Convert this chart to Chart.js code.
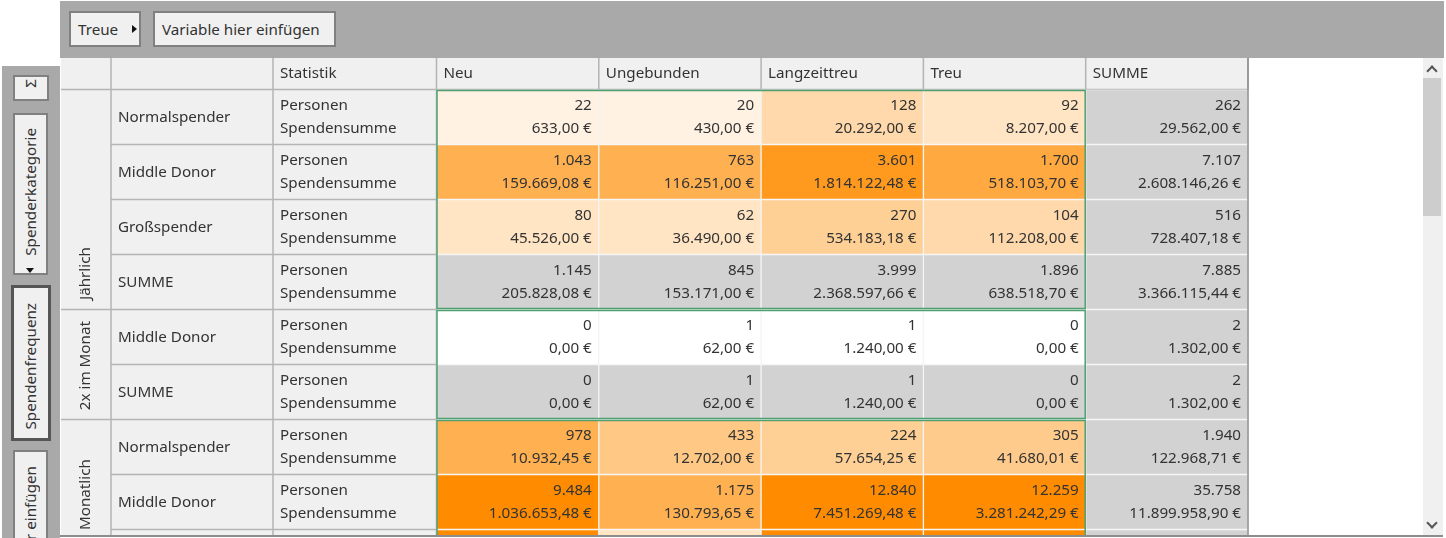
<!DOCTYPE html>
<html>
<head>
<meta charset="utf-8">
<title>Spenderkategorie nach Treue</title>
<script src="https://cdn.jsdelivr.net/npm/chart.js@4"></script>
<style>
html, body { margin: 0; width: 1446px; height: 538px; overflow: hidden; background: #fff; }
body { font: 15.2px "Noto Sans", sans-serif; color: #333; }
canvas { position: absolute; left: 0; top: 0; }
.bar, .side, .btn, .track, .thumb, .foot { position: absolute; box-sizing: border-box; }
.bar { left: 60px; top: 1px; width: 1384px; height: 57px; background: #a9a9a9; }
.side { left: 2px; top: 66px; width: 58px; height: 472px; background: #a9a9a9; overflow: hidden; }
.btn { background: #f0f0f0; border: 2px solid #808080; white-space: nowrap; }
.top { top: 11px; height: 36px; line-height: 32px; padding-left: 7px; }
.rot span { position: absolute; left: 0; width: 100%; line-height: 31px; text-align: center; writing-mode: vertical-rl; transform: rotate(180deg); }
.foot { left: 60px; top: 535px; width: 1383px; height: 2px; background: #8c8c8c; }
.track { left: 1423px; top: 58px; width: 20px; height: 477px; background: #f0f0f0; }
.thumb { left: 1423px; top: 78px; width: 18px; height: 138px; background: #cdcdcd; }
.chev { position: absolute; left: 1428px; width: 6px; height: 6px; border: solid #555; border-width: 2px 0 0 2px; transform: rotate(45deg); }
.tri { position: absolute; width: 0; height: 0; }
</style>
</head>
<body>
<canvas id="pivot" width="1446" height="538"></canvas>
<div class="bar"></div>
<div class="btn top" style="left:69px;width:72px">Treue</div>
<div class="tri" style="left:132px;top:25px;border-left:5px solid #111;border-top:4px solid transparent;border-bottom:4px solid transparent"></div>
<div class="btn top" style="left:153px;width:183px">Variable hier einfügen</div>
<div class="side">
  <div class="btn rot" style="left:11px;top:9px;width:36px;height:26px"><span style="top:2px">Σ</span></div>
  <div class="btn rot" style="left:11px;top:47px;width:35px;height:162px"><span style="top:13px">Spenderkategorie</span></div>
  <div class="tri" style="left:24px;top:202px;border-top:5px solid #111;border-left:4px solid transparent;border-right:4px solid transparent"></div>
  <div class="btn rot" style="left:9px;top:219px;width:40px;height:156px;border:3px solid #555"><span style="top:15px;line-height:33px">Spendenfrequenz</span></div>
  <div class="btn rot" style="left:11px;top:384px;width:35px;height:190px"><span style="top:14px">Variable hier einfügen</span></div>
</div>
<div class="track"></div>
<div class="thumb"></div>
<div class="chev" style="top:67px"></div>
<div class="chev" style="top:519px;transform:rotate(225deg)"></div>
<div class="foot"></div>

<script>
// column and row headers
const columns = ['Neu', 'Ungebunden', 'Langzeittreu', 'Treu', 'SUMME'];
const rowLabels = ['Normalspender', 'Middle Donor', 'Großspender', 'SUMME', 'Middle Donor', 'SUMME', 'Normalspender', 'Middle Donor', ''];
const statLabels = ['Personen', 'Spendensumme'];
const groupLabels = ['Jährlich', '2x im Monat', 'Monatlich'];
const groupStarts = [0, 4, 6];
const groupEnds = [4, 6, 9];
const groupTextEnds = [3.827, 5.83, 8.01]; // where the rotated label stops, in rows
const summeRows = [3, 5];

const personen = [
    [22, 20, 128, 92, 262],
    [1043, 763, 3601, 1700, 7107],
    [80, 62, 270, 104, 516],
    [1145, 845, 3999, 1896, 7885],
    [0, 1, 1, 0, 2],
    [0, 1, 1, 0, 2],
    [978, 433, 224, 305, 1940],
    [9484, 1175, 12840, 12259, 35758],
    [9000, 90, 9000, 9000, 27090] // only the top edge of this row shows, estimated
];
const spenden = [
    [633.00, 430.00, 20292.00, 8207.00, 29562.00],
    [159669.08, 116251.00, 1814122.48, 518103.70, 2608146.26],
    [45526.00, 36490.00, 534183.18, 112208.00, 728407.18],
    [205828.08, 153171.00, 2368597.66, 638518.70, 3366115.44],
    [0, 62.00, 1240.00, 0, 1302.00],
    [0, 62.00, 1240.00, 0, 1302.00],
    [10932.45, 12702.00, 57654.25, 41680.01, 122968.71],
    [1036653.48, 130793.65, 7451269.48, 3281242.29, 11899958.90],
    [null, null, null, null, null]
];

// colour steps of the heat map, read from the cells
const shadeLimits = [2, 50, 100, 200, 300, 400, 700, 1500, 3000, 6000];
const shades = [0, 0.11, 0.23, 0.33, 0.41, 0.45, 0.48, 0.68, 0.75, 0.88, 1];

const FONT = '15.2px "Noto Sans", sans-serif';
const TEXT = '#333333';
const LINE = '#b4b4b4';
const HEAD = '#f0f0f0';
const GREY = '#d2d2d2';
const colEdges = [61, 111, 273]; // fixed header columns left of the data

const fmtCount = v => v.toLocaleString('de-DE');
const fmtEuro = v => v.toLocaleString('de-DE', { minimumFractionDigits: 2, maximumFractionDigits: 2 }) + ' €';

function cellColor(row, col) {
    if (col === 4 || summeRows.includes(row)) return GREY;
    const step = shadeLimits.findIndex(limit => personen[row][col] < limit);
    const t = shades[step === -1 ? shades.length - 1 : step];
    return `rgb(255, ${Math.round(255 - t * 115)}, ${Math.round(255 - t * 255)})`;
}

const tablePlugin = {
    id: 'pivotTable',
    beforeDraw(chart) {
        const { ctx, scales: { x, y }, chartArea } = chart;
        const rowY = r => y.getPixelForValue(r);
        const left = x.getPixelForValue(0) - x.width / 10;
        const right = chartArea.right;
        ctx.save();
        ctx.fillStyle = HEAD;
        ctx.fillRect(colEdges[0], 58, left - colEdges[0], chartArea.bottom - 58);
        ctx.fillRect(left, 58, right - left, rowY(0) - 58);
        ctx.strokeStyle = LINE;
        ctx.lineWidth = 1.5;
        ctx.beginPath();
        // header line and column separators
        ctx.moveTo(colEdges[0], rowY(0)); ctx.lineTo(right, rowY(0));
        [colEdges[1], colEdges[2], left].forEach(px => { ctx.moveTo(px, 58); ctx.lineTo(px, chartArea.bottom); });
        columns.forEach((c, i) => {
            const px = x.getPixelForValue(i) + x.width / 10;
            ctx.moveTo(px, 58); ctx.lineTo(px, rowY(0));
        });
        rowLabels.forEach((r, i) => {
            const from = groupStarts.includes(i) ? colEdges[0] : colEdges[1];
            ctx.moveTo(from, rowY(i)); ctx.lineTo(left, rowY(i));
        });
        ctx.stroke();
        ctx.restore();
    },
    afterDatasetsDraw(chart) {
        const { ctx, scales: { x, y }, chartArea } = chart;
        const rowY = r => y.getPixelForValue(r);
        const colW = x.width / 5;
        const left = x.getPixelForValue(0) - colW / 2;
        ctx.save();
        ctx.beginPath();
        ctx.rect(0, 58, chart.width, chartArea.bottom - 58);
        ctx.clip();

        // green frame around each frequency group, without the SUMME column
        ctx.strokeStyle = '#4f9f72';
        ctx.lineWidth = 1.5;
        groupStarts.forEach((s, g) => {
            ctx.strokeRect(left + 0.5, rowY(s) + 1, colW * 4 - 1, rowY(groupEnds[g]) - rowY(s) - 2);
        });
        // dark right edge of the table
        ctx.strokeStyle = '#8c8c8c';
        ctx.beginPath();
        ctx.moveTo(chartArea.right, 58); ctx.lineTo(chartArea.right, chartArea.bottom);
        ctx.stroke();

        ctx.font = FONT;
        ctx.fillStyle = TEXT;
        ctx.textBaseline = 'middle';

        // column headers
        ctx.textAlign = 'left';
        ctx.fillText('Statistik', colEdges[2] + 7, 73.5);
        columns.forEach((c, i) => ctx.fillText(c, x.getPixelForValue(i) - colW / 2 + 7, 73.5));

        // row headers
        rowLabels.forEach((label, r) => {
            const top = rowY(r);
            ctx.fillText(label, colEdges[1] + 7, top + 28);
            if (label) {
                ctx.fillText(statLabels[0], colEdges[2] + 7, top + 16.5);
                ctx.fillText(statLabels[1], colEdges[2] + 7, top + 39.5);
            }
        });

        // cell values
        ctx.textAlign = 'right';
        personen.forEach((vals, r) => {
            vals.forEach((v, c) => {
                const px = x.getPixelForValue(c) + colW / 2 - 7;
                ctx.fillText(fmtCount(v), px, rowY(r) + 16.5);
                if (spenden[r][c] !== null) ctx.fillText(fmtEuro(spenden[r][c]), px, rowY(r) + 39.5);
            });
        });

        // rotated group labels
        groupLabels.forEach((label, g) => {
            ctx.save();
            ctx.translate(86, rowY(groupTextEnds[g]));
            ctx.rotate(-Math.PI / 2);
            ctx.textAlign = 'left';
            ctx.fillText(label, 0, 0);
            ctx.restore();
        });
        ctx.restore();
    }
};

// one floating bar per table cell, a dataset for each row
const datasets = personen.map((vals, r) => ({
    label: rowLabels[r] || 'Großspender',
    data: vals.map(() => [r, r + 1]),
    backgroundColor: vals.map((v, c) => cellColor(r, c)),
    borderColor: '#f4f4f4',
    borderWidth: 1,
    borderSkipped: false,
    grouped: false,
    categoryPercentage: 1,
    barPercentage: 1
}));

new Chart(document.getElementById('pivot'), {
    type: 'bar',
    data: { labels: columns, datasets },
    plugins: [tablePlugin],
    options: {
        responsive: false,
        animation: false,
        devicePixelRatio: 1,
        layout: { padding: { left: 436.5, right: 198, top: 89.5, bottom: 3 } },
        plugins: { legend: { display: false }, tooltip: { enabled: false } },
        scales: {
            x: { display: false },
            y: { display: false, reverse: true, min: 0, max: 8.1 }
        }
    }
});
</script>
</body>
</html>
